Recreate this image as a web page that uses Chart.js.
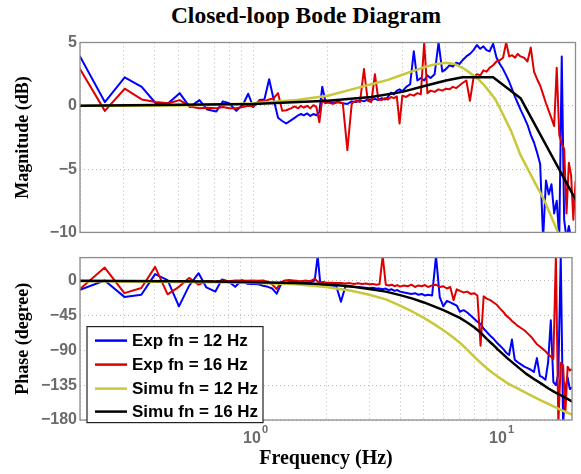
<!DOCTYPE html>
<html><head><meta charset="utf-8">
<script src="https://cdn.jsdelivr.net/npm/chart.js@4.4.1/dist/chart.umd.min.js"></script>
<style>
html,body{margin:0;padding:0;background:#fff;}
#wrap{position:relative;width:581px;height:474px;overflow:hidden;background:#fff;}
#title{position:absolute;left:306px;top:1px;transform:translateX(-50%);white-space:nowrap;font:bold 23.5px "Liberation Serif","Times New Roman",serif;line-height:28px;color:#000;}
canvas{position:absolute;left:0;}
</style></head><body>
<div id="wrap">
<div id="title">Closed-loop Bode Diagram</div>
<canvas id="mag" width="581" height="245" style="top:0"></canvas>
<canvas id="ph" width="581" height="229" style="top:245px"></canvas>
</div>
<script>
// ---- axis ticks / labels ----
const xTickValues = [0.2,0.3,0.4,0.5,0.6,0.7,0.8,0.9,1,2,3,4,5,6,7,8,9,10,20];
const xTickBase = {1: '10', 10: '10'};
const xTickExponent = {1: '0', 10: '1'};
const magTicks = [-10, -5, 0, 5];
const phaseTicks = [-180, -135, -90, -45, 0];
const seriesLabels = ['Exp fn = 12 Hz', 'Exp fn = 16 Hz', 'Simu fn = 12 Hz', 'Simu fn = 16 Hz'];
const seriesColors = ['#0000ff', '#dd0000', '#c8c83a', '#000000'];

// ---- experimental data (Hz) ----
const freqExp = [
  0.2, 0.252, 0.303, 0.355, 0.404, 0.454, 0.505, 0.555, 0.607, 0.653,
  0.71, 0.755, 0.8, 0.855, 0.91, 0.955, 1.0, 1.06, 1.11, 1.16,
  1.21, 1.26, 1.31, 1.36, 1.42, 1.47, 1.52, 1.56,
  1.6, 1.65, 1.7, 1.75, 1.8, 1.85, 1.9, 1.95, 2.0,
  2.1, 2.2, 2.3, 2.4, 2.5, 2.6, 2.7, 2.8, 2.9, 3.0,
  3.1, 3.2, 3.3, 3.4, 3.5, 3.6, 3.7, 3.8, 3.9, 4.0,
  4.15, 4.3, 4.45, 4.6, 4.75, 4.9, 5.05, 5.2,
  5.4, 5.6, 5.8, 6.0, 6.2, 6.4, 6.6, 6.8, 7.0,
  7.25, 7.5, 7.75, 8.0, 8.25, 8.5, 8.75, 9.0,
  9.3, 9.6, 9.9, 10.2, 10.5, 10.8, 11.1, 11.4, 11.7, 12.0,
  12.4, 12.8, 13.2, 13.6, 14.0, 14.4, 14.8, 15.2, 15.6, 16.0,
  16.4, 16.8, 17.2, 17.6, 18.0, 18.4, 18.8, 19.2, 19.6, 20.0
];
const magExp12 = [
  3.9, 0.3, 2.25, 1.5, 0.2, 0.2, 1.0, -0.1, 0.45, -0.3,
  -0.45, 0.35, 0.2, -0.4, 0.1, 0.95, -0.1, 0.45, 0.5, 2.1,
  0.5, -0.95, -1.2, -1.4, -1.15, -0.95, -0.75, -0.65,
  -0.75, -0.6, -0.8, -0.65, -0.75, -0.5, 1.5, 0.5, 0.3,
  0.25, 0.3, 0.2, 0.15, 0.35, 0.3, 0.45, 0.35, 0.5, 0.45,
  0.55, 0.45, 0.6, 0.5, 0.7, 1.05, 0.9, 1.2, 1.3, 1.15,
  1.5, 1.7, 4.3, 2.0, 2.2, 2.0, 2.4, 2.2,
  2.5, 5.0, 2.7, 2.9, 3.2, 3.1, 3.4, 3.3, 3.6,
  3.9, 4.1, 4.4, 4.8, 4.5, 4.7, 4.4, 4.3,
  4.9, 3.8, 3.3, 2.9, 2.4, 1.9, 1.3, 0.7, 0.2, -0.3,
  -0.9, -1.5, -2.3, -2.9, -3.7, -4.6, -10.5, -5.9, -7.0, -6.2,
  -8.5, -7.5, -10.5, 3.9, -9.0, -10.5, -9.5, -10.5, -10.5, -10.5
];
const magExp16 = [
  2.9, -0.4, 1.35, 0.5, 0.3, 0.2, 0.45, -0.05, -0.2, -0.15,
  -0.2, -0.1, -0.2, -0.2, -0.1, 0.0, -0.05, 0.4, 0.35, 0.5,
  0.6, 1.0, -0.4, -0.35, -0.2, -0.05, -0.2, 0.0,
  -0.15, 0.0, -0.2, 0.05, -0.1, -1.3, 0.5, 0.2, 0.25,
  0.15, 0.3, 0.2, -3.5, 0.2, 0.4, 0.3, 2.9, 0.4, 0.3,
  2.5, 0.5, 0.45, 0.6, 0.5, 0.7, 0.6, 0.75, -1.4, 0.8,
  0.7, 0.9, 0.8, 1.0, 0.9, 5.0, 1.0, 1.2,
  1.1, 1.3, 1.2, 1.35, 1.3, 1.5, 1.4, 1.6, 1.8,
  2.0, 0.4, 2.2, 2.5, 2.4, 2.8, 2.7, 3.0,
  3.2, 3.5, 3.6, 3.8, 5.0, 3.9, 4.0, 3.8, 4.1, 3.9,
  3.8, 3.5, 4.6, 2.7, 2.1, 1.6, 0.9, 0.2, -0.4, -1.0,
  -1.6, 3.0, -2.3, -3.0, -3.4, -8.5, -4.5, -5.5, -9.0, -6.0
];
const phExp12 = [
  -11.8, 0.4, -20.8, -18, 8.6, 0.8, -33, -6.5, 9.8, -8.6,
  -13.9, 1.6, -0.4, -7.8, 0.8, -3.7, -4.0, -4.5, -6.5, -7.8,
  -10, -16.7, -4.9, -3, -2.0, -1.5, -1.2, -2.0,
  -1.2, -2.4, -2.0, -1.5, 0.5, 32, -6.5, -5.5, -5.0,
  -6, -6.5, -27, -7, -7.5, -8, -8, -8.5, -9, -9.5,
  -9, -10, -10, -11, -10, -12, -11, -13, -12, -14,
  -15, -16, -17, -16, -18, -17, -19, -18,
  -19, 32, -21, -33, -26, -28, -30, -32, -40,
  -38, -41, -45, -49, -53, -56, -62, -66,
  -71, -75, -80, -84, -88, -93, -96, -76, -102, -105,
  -108, -111, -113, -115, -118, -100, -123, -125, -128, -105,
  -51, -131, -135, -120, 32, -185, -139, -125, -140, -138
];
const phExp16 = [
  -10.6, 17.1, -15.9, -9.4, 18, -17.5, -7.8, 3.7, -4.9, -0.4,
  -1.2, 0.5, -0.5, 0.3, 0.5, 0, 0.5, 0, 0.5, -1.2,
  -5, -10.6, -2, 0.5, 1.0, 0.5, 0.0, -0.5,
  -0.4, 0.5, -0.5, 0.3, 2.7, -1, -2, -1.5, -2.4,
  -2.5, -3, -2.8, -3.5, -3, -4, -3.2, -4, -3.5, -4.5,
  -4, -5, -4.5, 32, -5, -6, -5, -7, -5.5, -7.5,
  -6, -7, -5, -8, -6, -7, -5.5, -8,
  -6, -5, -8, -7, -10, -8, -25, -11, -13,
  -15, -14, -17, -16, -19, -84, -20, -23,
  -25, -28, -31, -36, -40, -45, -48, -52, -55, -58,
  -61, -64, -68, -72, -77, -82, -85, -88, -91, -95,
  -98, -101, 32, -185, -106, -109, -170, -111, -116, -114
];

// ---- simulated data ----
const freqSim = [0.2, 0.3, 0.5, 0.7, 1.0, 1.5, 2.0, 2.5, 3.0, 3.5, 4.0, 4.5, 5.0, 5.5, 6.0, 6.5,
  7.0, 7.5, 8.0, 8.5, 9.0, 9.5, 10, 11, 12, 13, 14, 15, 16, 17, 18, 19, 20];
const magSim12 = [0, 0, 0.02, 0.08, 0.2, 0.45, 0.8, 1.3, 1.7, 2.05, 2.45, 2.8, 3.1, 3.3, 3.4, 3.3,
  3.0, 2.6, 2.2, 1.7, 1.1, 0.5, -0.35, -2.0, -3.9, -5.2, -6.4, -7.5, -8.8, -10, -11.2, -12.3, -13.3];
const phSim12 = [-0.5, -1, -1.5, -2, -2.5, -4.5, -8, -12.5, -18, -24, -32, -40, -48, -56, -64, -72,
  -80, -89, -98, -106, -113, -119, -124, -133, -139, -145, -150, -155, -159, -163, -167, -170, -173];
const phSim16 = [0, -0.3, -0.6, -1, -1.8, -3, -4.5, -7, -10.5, -14, -18.5, -23, -28, -33, -38, -43,
  -48, -54, -60, -67, -75, -82, -89, -101, -111, -120, -127, -133, -139, -144, -148, -152, -156];
const freqSim16Mag = [0.2, 1, 2, 3, 4, 5, 6, 7, 9.3, 12, 20];
const magSim16 = [0, 0.15, 0.4, 0.7, 1.1, 1.6, 2.0, 2.25, 2.25, 0.6, -7.4];

// ---- helpers ----
const pts = (xs, ys) => xs.slice(0, Math.min(xs.length, ys.length)).map((x, i) => ({x: x, y: ys[i]}));
const SANS = '"Liberation Sans", Arial, Helvetica, sans-serif';
const SERIF = '"Liberation Serif", "Times New Roman", serif';
const gridColor = '#b8b8b8';
const tickColor = '#6b6b6b';
const tickFont = {family: SANS, size: 16, weight: 'bold'};

function ds(i, data, width, order) {
  return {label: seriesLabels[i], data: data, borderColor: seriesColors[i], backgroundColor: seriesColors[i],
    borderWidth: width, pointRadius: 0, tension: 0, fill: false, order: order,
    borderJoinStyle: 'round', borderCapStyle: 'round'};
}

const framePlugin = {
  id: 'frame',
  afterDatasetsDraw(chart) {
    const {ctx, chartArea: a} = chart;
    ctx.save();
    ctx.strokeStyle = '#8c8c8c';
    ctx.lineWidth = 1.3;
    ctx.strokeRect(a.left, a.top, a.right - a.left, a.bottom - a.top);
    ctx.restore();
  }
};

// superscript exponents for the decade labels (10^0, 10^1)
const exponentPlugin = {
  id: 'exponents',
  afterDraw(chart) {
    const sx = chart.scales.x;
    const {ctx} = chart;
    ctx.save();
    ctx.font = 'bold 11px ' + SANS;
    ctx.fillStyle = tickColor;
    ctx.textAlign = 'left';
    ctx.textBaseline = 'middle';
    Object.keys(xTickExponent).forEach(k => {
      const px = sx.getPixelForValue(Number(k));
      ctx.fillText(xTickExponent[k], px + 10, sx.top + 9.5);
    });
    ctx.restore();
  }
};

const legendPlugin = {
  id: 'boxLegend',
  afterDraw(chart) {
    const {ctx, chartArea: a} = chart;
    const x0 = a.left + 7, y0 = a.top + 69, w = 176, h = 96;
    ctx.save();
    ctx.fillStyle = '#fff';
    ctx.fillRect(x0, y0, w, h);
    ctx.strokeStyle = '#222';
    ctx.lineWidth = 1.2;
    ctx.strokeRect(x0, y0, w, h);
    const rows = [14, 38, 62, 85];
    ctx.font = 'bold 17px ' + SANS;
    ctx.textBaseline = 'middle';
    ctx.textAlign = 'left';
    chart.data.datasets.forEach((d, i) => {
      const yy = y0 + rows[i];
      ctx.strokeStyle = d.borderColor;
      ctx.lineWidth = 2.5;
      ctx.beginPath();
      ctx.moveTo(x0 + 8, yy);
      ctx.lineTo(x0 + 40, yy);
      ctx.stroke();
      ctx.fillStyle = '#000';
      ctx.fillText(d.label, x0 + 45, yy + 1);
    });
    ctx.restore();
  }
};

function xScale(bottom) {
  return {
    type: 'logarithmic', min: 0.2, max: 20,
    afterBuildTicks: s => { s.ticks = xTickValues.map(v => ({value: v})); },
    afterFit: s => { s.height = bottom ? 54 : 11; },
    grid: {color: gridColor, lineWidth: 1, drawTicks: false},
    border: {display: false, dash: [1, 3]},
    ticks: {display: bottom, autoSkip: false, maxRotation: 0, minRotation: 0, padding: 9,
      color: tickColor, font: tickFont, callback: v => xTickBase[v] || ''},
    title: {display: bottom, text: 'Frequency (Hz)', color: '#000',
      font: {family: SERIF, size: 20, weight: 'bold'}, padding: {top: 0, bottom: 3}}
  };
}

function yScale(min, max, tickVals, titleText) {
  return {
    type: 'linear', min: min, max: max,
    afterBuildTicks: s => { s.ticks = tickVals.map(v => ({value: v})); },
    afterFit: s => { s.width = 80; },
    grid: {color: gridColor, lineWidth: 1, drawTicks: false},
    border: {display: false, dash: [1, 3]},
    ticks: {padding: 3, color: tickColor, font: tickFont,
      callback: v => String(v).replace('-', '\u2212')},
    title: {display: true, text: titleText, color: '#000',
      font: {family: SERIF, size: 18, weight: 'bold'}, padding: {top: 13, bottom: 0}}
  };
}

function common(padTop, xs, ys) {
  return {
    responsive: false, animation: false, devicePixelRatio: 1,
    layout: {padding: {top: padTop, right: 5.5, bottom: 0, left: 0}},
    plugins: {legend: {display: false}, tooltip: {enabled: false}, title: {display: false}},
    scales: {x: xs, y: ys}
  };
}

new Chart(document.getElementById('mag'), {
  type: 'line',
  data: {datasets: [
    ds(0, pts(freqExp, magExp12), 2, 3),
    ds(1, pts(freqExp, magExp16), 2, 2),
    ds(2, pts(freqSim, magSim12), 2.5, 1),
    ds(3, pts(freqSim16Mag, magSim16), 2.5, 0)
  ]},
  options: common(42.5, xScale(false), yScale(-10, 5, magTicks, 'Magnitude (dB)')),
  plugins: [framePlugin]
});

new Chart(document.getElementById('ph'), {
  type: 'line',
  data: {datasets: [
    ds(0, pts(freqExp, phExp12), 2, 3),
    ds(1, pts(freqExp, phExp16), 2, 2),
    ds(2, pts(freqSim, phSim12), 2.5, 1),
    ds(3, pts(freqSim, phSim16), 2.5, 0)
  ]},
  options: common(4, xScale(true), yScale(-180, 30, phaseTicks, 'Phase (degree)')),
  plugins: [framePlugin, legendPlugin, exponentPlugin]
});
</script>
</body></html>
